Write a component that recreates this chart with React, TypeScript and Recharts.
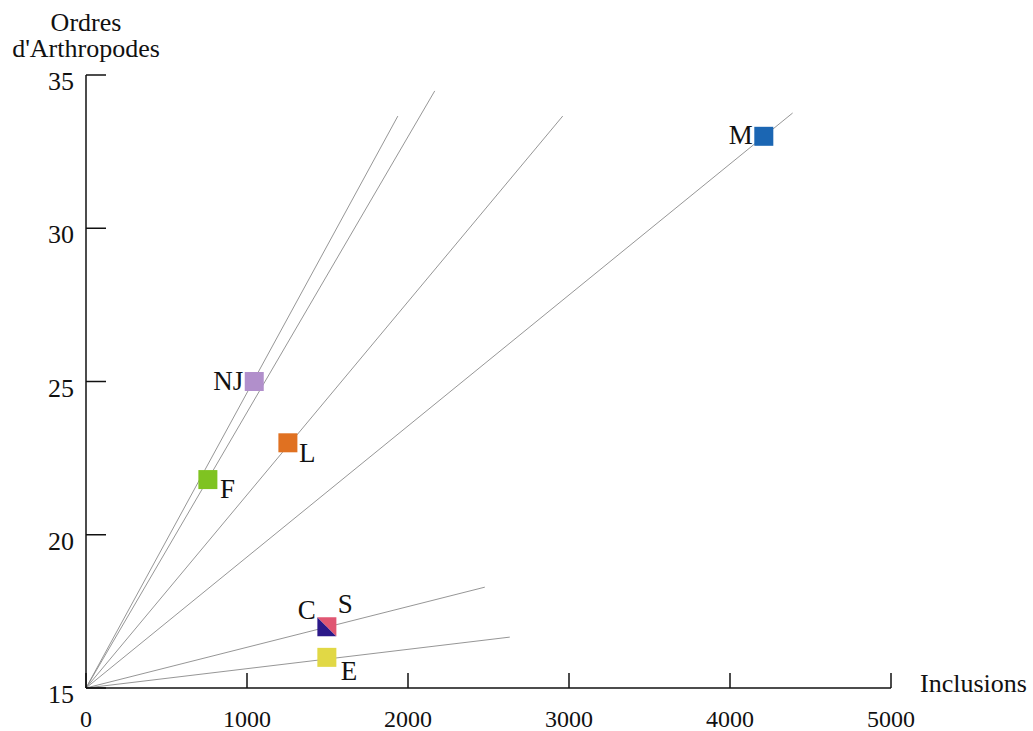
import { ScatterChart, Scatter, XAxis, YAxis, ReferenceLine } from "recharts";

// points: x = inclusions, y = orders of arthropods
const names = ["NJ", "F", "L", "M", "CS", "E"];
const inclusions = [1045, 757, 1254, 4210, 1496, 1496];
const orders = [25, 21.8, 23, 33, 17, 16];

// rays from the origin (0, 15)
const rayEndX = [1937, 2166, 2961, 4389, 2477, 2632];
const rayEndY = [33.66, 34.48, 33.66, 33.76, 18.29, 16.66];

const xTicks = [0, 1000, 2000, 3000, 4000, 5000];
const yTicks = [15, 20, 25, 30, 35];

const COLORS: Record<string, string> = {
  NJ: "#b18fcb",
  F: "#7fc321",
  L: "#e07121",
  M: "#1b66b3",
  C: "#2b1889",
  S: "#e05672",
  E: "#e1d845",
};

const FONT = "'Liberation Serif', 'DejaVu Serif', serif";

const points = names.map((n, i) => ({ name: n, x: inclusions[i], y: orders[i] }));

const SIZE = 19;

function Marker(props: any) {
  const { cx, cy, payload } = props;
  const h = SIZE / 2;
  const name = payload.name;
  const txt = (s: string, dx: number, dy: number, anchor: string) => (
    <text x={cx + dx} y={cy + dy} textAnchor={anchor} fontFamily={FONT} fontSize={27} fill="#111">
      {s}
    </text>
  );
  if (name === "CS") {
    return (
      <g>
        <polygon points={`${cx - h},${cy - h} ${cx - h},${cy + h} ${cx + h},${cy + h}`} fill={COLORS.C} />
        <polygon points={`${cx - h},${cy - h} ${cx + h},${cy - h} ${cx + h},${cy + h}`} fill={COLORS.S} />
        {txt("C", -11, -8, "end")}
        {txt("S", 11, -14, "start")}
      </g>
    );
  }
  const lab: Record<string, [number, number, string]> = {
    NJ: [-11, 8, "end"],
    F: [12, 18, "start"],
    L: [11, 19, "start"],
    M: [-11, 8, "end"],
    E: [14, 23, "start"],
  };
  const [dx, dy, anchor] = lab[name];
  return (
    <g>
      <rect x={cx - h} y={cy - h} width={SIZE} height={SIZE} fill={COLORS[name]} />
      {txt(name, dx, dy, anchor)}
    </g>
  );
}

function YTick(props: any) {
  const { x, y, payload } = props;
  return (
    <g>
      <line x1={x} y1={y} x2={x + 20} y2={y} stroke="#111" strokeWidth={1.5} />
      <text x={x - 12} y={y + 15} textAnchor="end" fontFamily={FONT} fontSize={26} fill="#111">
        {payload.value}
      </text>
    </g>
  );
}

function XTick(props: any) {
  const { x, y, payload } = props;
  return (
    <g>
      <line x1={x} y1={y} x2={x} y2={y - 15} stroke="#111" strokeWidth={1.5} />
      <text x={x} y={y + 39} textAnchor="middle" fontFamily={FONT} fontSize={24} fill="#111">
        {payload.value}
      </text>
    </g>
  );
}

export default function App() {
  return (
    <div style={{ position: "absolute", left: 0, top: 0, width: 1033, height: 731, background: "#fff" }}>
      <ScatterChart width={1033} height={731} margin={{ top: 75, right: 142, bottom: 0, left: 26 }}>
        <XAxis
          type="number"
          dataKey="x"
          domain={[0, 5000]}
          ticks={xTicks}
          interval={0}
          height={43}
          tickSize={0}
          tickMargin={0}
          tickLine={false}
          axisLine={{ stroke: "#111", strokeWidth: 1.5 }}
          tick={<XTick />}
        />
        <YAxis
          type="number"
          dataKey="y"
          domain={[15, 35]}
          ticks={yTicks}
          interval={0}
          width={60}
          tickSize={0}
          tickMargin={0}
          tickLine={false}
          axisLine={{ stroke: "#111", strokeWidth: 1.5 }}
          tick={<YTick />}
        />
        {rayEndX.map((ex, i) => (
          <ReferenceLine
            key={i}
            segment={[
              { x: 0, y: 15 },
              { x: ex, y: rayEndY[i] },
            ]}
            stroke="#8a8a8a"
            strokeWidth={0.9}
          />
        ))}
        <Scatter data={points} shape={<Marker />} isAnimationActive={false} />
      </ScatterChart>
      <div
        style={{
          position: "absolute",
          left: 0,
          top: 10,
          width: 172,
          textAlign: "center",
          fontFamily: FONT,
          fontSize: 26,
          lineHeight: "26px",
          color: "#111",
        }}
      >
        Ordres
        <br />
        d'Arthropodes
      </div>
      <div
        style={{
          position: "absolute",
          left: 920,
          top: 669,
          fontFamily: FONT,
          fontSize: 26,
          lineHeight: "normal",
          color: "#111",
        }}
      >
        Inclusions
      </div>
    </div>
  );
}
